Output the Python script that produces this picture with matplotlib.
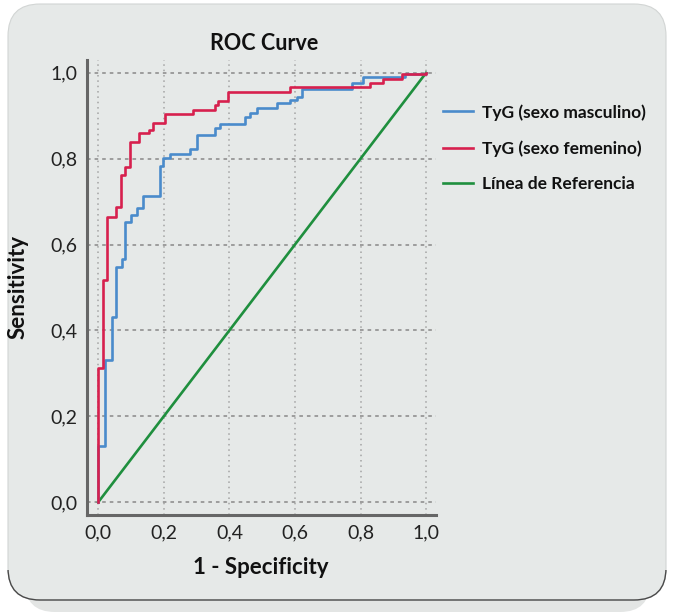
import matplotlib
matplotlib.use('Agg')
import matplotlib.pyplot as plt
from matplotlib.patches import FancyBboxPatch, Rectangle

# ROC points (1 - specificity, sensitivity)
fpr_male = [0, 0, 0.020, 0.041, 0.054, 0.071, 0.081, 0.099, 0.117, 0.135, 0.188, 0.198,
            0.219, 0.280, 0.300, 0.356, 0.371, 0.448, 0.463, 0.485, 0.544, 0.585, 0.605,
            0.621, 0.773, 0.809, 0.936, 1.0]
tpr_male = [0, 0.130, 0.331, 0.432, 0.548, 0.566, 0.653, 0.669, 0.685, 0.713, 0.783, 0.801,
            0.811, 0.822, 0.855, 0.871, 0.880, 0.896, 0.906, 0.918, 0.929, 0.936, 0.943,
            0.962, 0.977, 0.991, 0.998, 1.0]
fpr_female = [0, 0, 0.013, 0.026, 0.054, 0.068, 0.081, 0.097, 0.125, 0.156, 0.166, 0.204,
              0.290, 0.356, 0.366, 0.397, 0.585, 0.829, 0.870, 0.926, 1.0]
tpr_female = [0, 0.312, 0.517, 0.665, 0.688, 0.762, 0.781, 0.838, 0.859, 0.867, 0.883, 0.904,
              0.914, 0.925, 0.935, 0.956, 0.968, 0.976, 0.985, 0.998, 1.0]
ref_line = [0, 1]
ticks = [0, 0.2, 0.4, 0.6, 0.8, 1.0]
tick_labels = ['0,0', '0,2', '0,4', '0,6', '0,8', '1,0']
labels = ['TyG (sexo masculino)', 'TyG (sexo femenino)', 'Línea de Referencia']

BG = '#e6e9e8'
plt.rcParams['font.family'] = ['Lato', 'DejaVu Sans']

fig = plt.figure(figsize=(6.74, 6.12), dpi=100, facecolor='white')

# rounded panel behind the chart, dark edge only along the bottom
shadow = FancyBboxPatch((0.25, 0.0), 6.25, 0.6, boxstyle='round,pad=0,rounding_size=0.3',
                        transform=fig.dpi_scale_trans, facecolor='#e3e5e4', edgecolor='none', zorder=0)
panel = FancyBboxPatch((0.08, 0.12), 6.58, 5.96, boxstyle='round,pad=0,rounding_size=0.32',
                       transform=fig.dpi_scale_trans, facecolor=BG, edgecolor='#d2d5d4', lw=0.8, zorder=1)
border = FancyBboxPatch((0.08, 0.12), 6.58, 5.96, boxstyle='round,pad=0,rounding_size=0.32',
                        transform=fig.dpi_scale_trans, facecolor='none', edgecolor='#4a4a4a', lw=1.0, zorder=2)
clip = Rectangle((0, 0), 6.74, 0.42, transform=fig.dpi_scale_trans)
fig.patches.extend([shadow, panel, border])
border.set_clip_path(clip)

ax = fig.add_axes([0.129, 0.1585, 0.518, 0.7435])
ax.set_facecolor('none')
ax.set_zorder(3)

ax.step(fpr_male, tpr_male, where='post', color='#4a8bcb', lw=1.9, label=labels[0], zorder=4)
ax.step(fpr_female, tpr_female, where='post', color='#d7204e', lw=1.9, label=labels[1], zorder=5)
ax.plot(ref_line, ref_line, color='#1f8f3e', lw=1.9, label=labels[2], zorder=3)

ax.set_xlim(-0.0345, 1.0305)
ax.set_ylim(-0.030, 1.030)
ax.set_xticks(ticks)
ax.set_xticklabels(tick_labels)
ax.set_yticks(ticks)
ax.set_yticklabels(tick_labels)
ax.tick_params(length=0, labelsize=14, colors='#222222', pad=7)

for t in ticks:
    ax.axhline(t, color='#979797', lw=1.3, ls=(0, (2, 2.2)), zorder=1)
    ax.axvline(t, color='#a3a3a3', lw=1.1, ls=(0, (1, 2.5)), zorder=1)

for s in ['top', 'right']:
    ax.spines[s].set_visible(False)
for s in ['left', 'bottom']:
    ax.spines[s].set_color('#666666')
    ax.spines[s].set_linewidth(2.2)

fig.text(264 / 674, 1 - 44 / 612, 'ROC Curve', ha='center', va='center',
         fontsize=15.5, fontweight='bold', color='#111111')
fig.text(261 / 674, 1 - 568 / 612, '1 - Specificity', ha='center', va='center',
         fontsize=16, fontweight='bold', color='#111111')
fig.text(18 / 674, 1 - 287 / 612, 'Sensitivity', ha='center', va='center', rotation=90,
         fontsize=16, fontweight='bold', color='#111111')

leg = fig.legend(loc='upper left', bbox_to_anchor=(443 / 674, 1 - 104 / 612), frameon=False,
                 prop={'size': 12.5, 'weight': 'bold'}, handlelength=1.75, handletextpad=0.5,
                 labelspacing=1.13, borderpad=0, borderaxespad=0)
for txt in leg.get_texts():
    txt.set_color('#111111')

fig.savefig('out.png', dpi=100, facecolor='white')
